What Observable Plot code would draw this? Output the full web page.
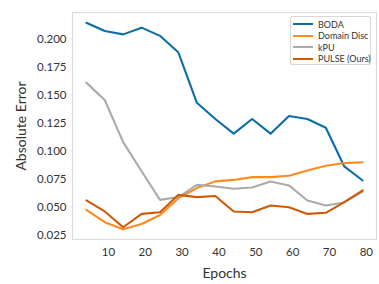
<!DOCTYPE html>
<html>
<head>
<meta charset="utf-8">
<script src="https://cdn.jsdelivr.net/npm/d3@7"></script>
<script src="https://cdn.jsdelivr.net/npm/@observablehq/plot@0.6"></script>
<style>
  body { margin: 0; background: #fff; }
  #wrap { position: relative; width: 379px; height: 284px; font-family: Lato, "DejaVu Sans", sans-serif; }
  #legend { position: absolute; left: 290px; top: 16px; width: 81px; height: 49px; border: 1px solid #d8d8d8; border-radius: 2px; background: rgba(255,255,255,0.85); box-sizing: border-box; }
  .item { position: absolute; left: 2px; height: 12px; display: flex; align-items: center; font-size: 9px; color: #333; white-space: nowrap; }
  .sw { width: 20px; height: 2.2px; margin-right: 5px; }
</style>
</head>
<body>
<div id="wrap"><div id="legend"></div></div>
<script>
const epochs = [4, 9, 14, 19, 24, 29, 34, 39, 44, 49, 54, 59, 64, 69, 74, 79];
const seriesNames = ["BODA", "Domain Disc", "kPU", "PULSE (Ours)"];
const boda = [0.2143, 0.2070, 0.2040, 0.2100, 0.2027, 0.1878, 0.1430, 0.1286, 0.1155, 0.1286, 0.1155, 0.1312, 0.1286, 0.1208, 0.0863, 0.0738];
const domainDisc = [0.0476, 0.0366, 0.0304, 0.0350, 0.0430, 0.0580, 0.0670, 0.0730, 0.0743, 0.0768, 0.0768, 0.0780, 0.0827, 0.0870, 0.0893, 0.0900];
const kpu = [0.1610, 0.1455, 0.1080, 0.0820, 0.0565, 0.0590, 0.0699, 0.0685, 0.0664, 0.0676, 0.0729, 0.0694, 0.0560, 0.0515, 0.0542, 0.0640];
const pulse = [0.0560, 0.0462, 0.0321, 0.0440, 0.0455, 0.0610, 0.0590, 0.0600, 0.0462, 0.0455, 0.0515, 0.0500, 0.0440, 0.0450, 0.0545, 0.0650];
const colors = ["#0a6ea8", "#ff8a1e", "#ababab", "#cf5a06"];
const yTicks = [0.025, 0.050, 0.075, 0.100, 0.125, 0.150, 0.175, 0.200];
const xTicks = [10, 20, 30, 40, 50, 60, 70, 80];

const allSeries = [boda, domainDisc, kpu, pulse];
const data = [];
allSeries.forEach((vals, s) => vals.forEach((v, i) => data.push({epoch: epochs[i], value: v, series: seriesNames[s]})));

const chart = Plot.plot({
  width: 379,
  height: 284,
  marginLeft: 72,
  marginRight: 3,
  marginTop: 12,
  marginBottom: 45,
  style: {fontFamily: "Lato, 'DejaVu Sans', sans-serif", fontSize: "11.5px", color: "#333", background: "#fff"},
  x: {domain: [0.25, 82.75], ticks: xTicks, tickSize: 0, tickPadding: 8, label: "Epochs", labelAnchor: "center", labelArrow: "none", labelOffset: 38},
  y: {domain: [0.0212, 0.2235], ticks: yTicks, tickFormat: ".3f", tickSize: 0, tickPadding: 6, label: "Absolute Error", labelAnchor: "center", labelArrow: "none", labelOffset: 56},
  color: {domain: seriesNames, range: colors},
  marks: [
    Plot.frame({stroke: "#dddddd", strokeWidth: 1.2}),
    Plot.line(data, {x: "epoch", y: "value", z: "series", stroke: "series", strokeWidth: 2.1, strokeLinejoin: "round"})
  ]
});
chart.querySelectorAll("g[aria-label='x-axis label'] text, g[aria-label='y-axis label'] text").forEach(t => t.setAttribute("font-size", "14px"));
const wrap = document.getElementById("wrap");
wrap.insertBefore(chart, wrap.firstChild);

const legend = document.getElementById("legend");
seriesNames.forEach((name, i) => {
  const it = document.createElement("div");
  it.className = "item";
  it.style.top = (1 + i * 11.6) + "px";
  const sw = document.createElement("div");
  sw.className = "sw";
  sw.style.background = colors[i];
  it.appendChild(sw);
  it.appendChild(document.createTextNode(name));
  legend.appendChild(it);
});
</script>
</body>
</html>
